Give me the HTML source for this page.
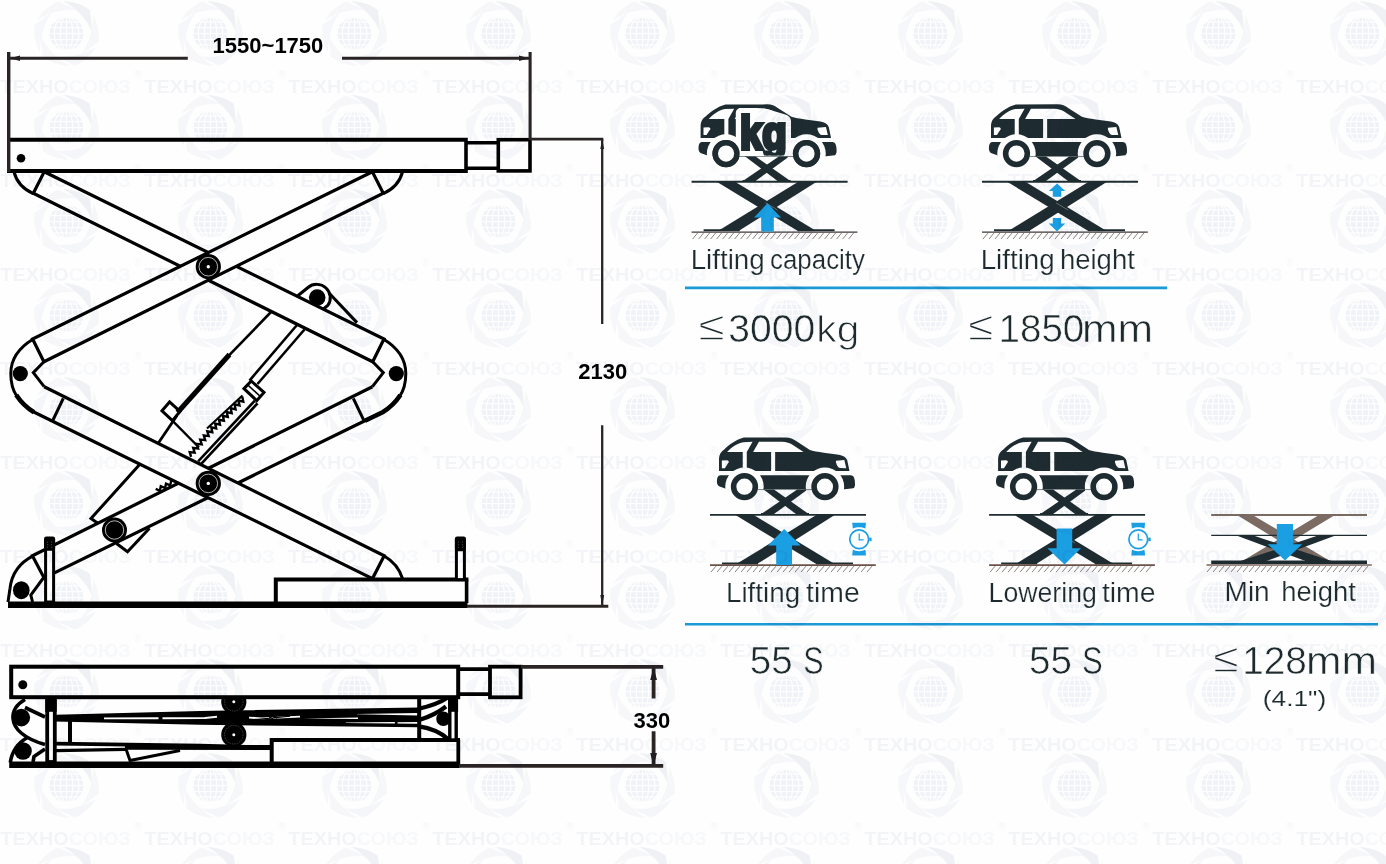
<!DOCTYPE html>
<html lang="en">
<head>
<meta charset="utf-8">
<title>Scissor lift specifications</title>
<style>
html,body{margin:0;padding:0;background:#fefefe;}
body{width:1386px;height:864px;overflow:hidden;font-family:"Liberation Sans",sans-serif;}
svg{display:block;position:absolute;left:0;top:0;will-change:transform;}
.dim{font-family:"Liberation Sans",sans-serif;font-weight:bold;font-size:22px;fill:#000;}
.lbl{font-family:"Liberation Sans",sans-serif;font-size:27px;fill:#1d2a2e;stroke:#fefefe;stroke-width:0.22px;}
.val{font-family:"Liberation Sans",sans-serif;font-size:39.5px;fill:#1d2a2e;stroke:#fefefe;stroke-width:0.6px;}
.wm{font-family:"Liberation Sans",sans-serif;font-weight:bold;font-size:19px;}
.wmr{font-family:"Liberation Sans",sans-serif;font-size:11px;fill:#f3f4f8;}
</style>
</head>
<body>
<svg width="1386" height="864" viewBox="0 0 1386 864">
<!-- lift_up.svg -->
<g id="lift-up" stroke="#000" stroke-linejoin="miter" stroke-linecap="butt" fill="none">
 <!-- lock / cylinder assembly (behind arms) -->
 <g id="cyl">
  <path d="M271,312 L228.3,356.2" stroke-width="2.6"/>
  <path d="M229.5,354.5 L177.5,412.5" stroke-width="5"/>
  <path d="M177,415.5 L157,445" stroke-width="2.8"/>
  <path d="M141,463 L91,518.5 L97.5,523" stroke-width="3"/>
  <path d="M162,410.8 L169.6,402 L180,411.5 L172.4,420.6 Z" stroke-width="3"/>
  <path d="M172.4,420.6 L199,447.5" stroke-width="2.4"/>
  <path d="M297,325 L249.5,380.6" stroke-width="2.6"/>
  <path d="M304.5,329.5 L257.5,384" stroke-width="2.6"/>
  <path d="M244,388.6 L251.2,381 L264,392.4 L256.8,400.6 Z" stroke-width="3"/>
  <path d="M247.6,384.8 L260.4,396.5" stroke-width="1.6"/>
  <path d="M242.5,395.5 L207,428.5" stroke-width="2.2"/>
  <path d="M256.2,402 L199.6,462.8" stroke-width="6.4"/>
  <path d="M255.6,402.6 L200,462.2" stroke="#fff" stroke-width="1.3"/>
  <path d="M242.3,396.7 L243.3,401.6 L238.4,400.5 L239.5,405.4 L234.6,404.4 L235.6,409.3 L230.7,408.2 L231.7,413.1 L226.8,412.0 L227.8,416.9 L222.9,415.8 L223.9,420.7 L219.0,419.7 L220.0,424.6 L215.2,423.5 L216.2,428.4 L211.3,427.3 L212.3,432.2 L207.3,431.3 L208.7,436.1 L203.8,435.4 L205.2,440.2 L200.2,439.6 L201.7,444.4 L196.7,443.8 L198.1,448.5 L193.2,447.9 L194.6,452.7 L189.7,452.1 L191.1,456.9" stroke-width="2.4" stroke-linejoin="miter"/>
  <path d="M171.2,480.9 L170.2,485.4 L166.0,483.6 L165.1,488.1 L160.8,486.2 L159.9,490.8 L155.7,488.9" stroke-width="2.4" stroke-linejoin="miter"/>
 </g>
 <!-- lower scissor: arm D (behind) -->
 <g id="armD">
  <path d="M372.4,386.7 L32.4,555.8 L44.1,578 L383.3,411.7" fill="#fefefe" stroke-width="3.2"/>
  <path d="M353.3,398.3 L363.8,420.4" stroke-width="3"/>
  <!-- roller bracket -->
  <path d="M116.5,543.5 L127.5,551.8 L149.5,528.2" stroke-width="3"/>
 </g>
 <!-- lower scissor: arm C (front) -->
 <g id="armC">
  <path d="M44.2,386.7 L384.2,555.8 L372.5,578.6 L33.3,411.7" fill="#fefefe" stroke-width="3.2"/>
  <path d="M63.3,398.3 L53,420" stroke-width="3"/>
  <path d="M384.2,556 C393,561 399.5,569 402.5,578.5" stroke-width="3"/>
 </g>
 <circle cx="114.5" cy="530" r="12.5" fill="#000" stroke="none"/>
 <circle cx="114.5" cy="530" r="9.2" fill="none" stroke="#fff" stroke-width="0.7"/>
 <!-- upper scissor: arm A (behind) -->
 <g id="armA">
  <path d="M44.2,171.8 L384,339 L372.7,361.8 L33.3,193.3 Z" fill="#fefefe" stroke-width="3.2"/>
  <path d="M14,172 C16.5,181.5 23,189 33.3,193.6" stroke-width="3"/>
  <!-- lock bracket with pin -->
  <path d="M297.5,296 L308,287.5 C313,283.2 321,283.3 326,288 C331,292.6 331.6,300 328,305.2 L323.5,309" stroke-width="3"/>
  <path d="M329,293 L357,322.6" stroke-width="3"/>
  <circle cx="317.2" cy="297.6" r="8.3" fill="#000" stroke="none"/>
 </g>
 <!-- upper scissor: arm B (front) -->
 <g id="armB">
  <path d="M372.4,171.8 L32.6,339 L43.9,361.8 L383.3,193.3 Z" fill="#fefefe" stroke-width="3.2"/>
  <path d="M402.5,172 C400,181.5 393.5,189 383.3,193.6" stroke-width="3"/>
 </g>
 <!-- joints -->
 <g id="joints" stroke-width="3">
  <path d="M33,339.2 C17.5,348.5 10.8,361 10.8,373.5 C10.8,384 13.5,391.5 17,396.5"/>
  <path d="M16.2,395 C21.5,403 27,408 34,412.2" stroke-width="4.6"/>
  <path d="M43.9,361.8 L33.3,372.6 L44.2,386.7"/>
  <circle cx="20.3" cy="373.6" r="7.6" fill="#000" stroke="none"/>
  <path d="M383.6,339.2 C399.1,348.5 405.8,361 405.8,373.5 C405.8,384 403.1,391.5 399.6,396.5"/>
  <path d="M400.4,395 C395.1,403 389.6,408 382.6,412.2 L365,420.8" stroke-width="4.6"/>
  <path d="M372.7,361.8 L383.3,372.6 L372.4,386.7"/>
  <circle cx="396.3" cy="373.6" r="7.6" fill="#000" stroke="none"/>
  <!-- bottom-left foot -->
  <path d="M33,555.8 C19,563 11.5,574.5 10,588.5 L8,602"/>
  <path d="M44.1,577 L30.8,595 L32.6,602"/>
  <ellipse cx="21.3" cy="590.2" rx="8.3" ry="9" fill="#000" stroke="none"/>
 </g>
 <!-- pivots -->
 <g id="pivots" stroke="none">
  <circle cx="208.3" cy="266.7" r="12.6" fill="#000"/>
  <circle cx="208.3" cy="266.7" r="9.3" fill="none" stroke="#fff" stroke-width="0.7"/>
  <circle cx="208.3" cy="266.7" r="1.7" fill="#fff"/>
  <circle cx="208.3" cy="483.4" r="12.6" fill="#000"/>
  <circle cx="208.3" cy="483.4" r="9.3" fill="none" stroke="#fff" stroke-width="0.7"/>
  <circle cx="208.3" cy="483.4" r="1.7" fill="#fff"/>
 </g>
 <!-- platform -->
 <g id="platform" stroke-width="4">
  <path d="M7,139.7 H467.8"/>
  <path d="M7,170.9 H467.8"/>
  <path d="M466,141 V170" stroke-width="3.6"/>
  <path d="M466,142.8 H498.3 M466,168.2 H498.3" stroke-width="3.6"/>
  <rect x="498.3" y="139.7" width="31.7" height="31.2" stroke-width="3.6"/>
  <circle cx="21" cy="158.2" r="4.3" fill="#000" stroke="none"/>
 </g>
 <!-- base -->
 <g id="base">
  <path d="M8,604.8 H467.5" stroke-width="6.4"/>
  <path d="M275.8,602 V579.6 H468.4" stroke-width="4"/>
  <path d="M466.6,579.6 V603" stroke-width="3.6"/>
  <!-- posts -->
  <rect x="45.6" y="540" width="8" height="62" fill="#fefefe" stroke-width="3"/>
  <rect x="44.1" y="536.6" width="11" height="14.2" rx="2.2" fill="#000" stroke="none"/>
  <path d="M47.6,541.5 V549 M51.6,541.5 V549" stroke="#555" stroke-width="0.8" stroke-dasharray="1.2 1.4"/>
  <rect x="456.4" y="540" width="8" height="39.6" fill="#fefefe" stroke-width="3"/>
  <rect x="454.9" y="536.6" width="11" height="14.6" rx="2.2" fill="#000" stroke="none"/>
  <path d="M458.4,541.5 V549.5 M462.4,541.5 V549.5" stroke="#555" stroke-width="0.8" stroke-dasharray="1.2 1.4"/>
 </g>
</g>

<!-- lift_down.svg -->
<g id="lift-down" stroke="#000" fill="none" stroke-linejoin="miter">
 <!-- folded arms -->
 <g id="folded">
  <path d="M56,716 L200,712.2 L418,708.6 L418,726 L200,723.6 L56,720.4 Z" fill="#000" stroke-width="2.4"/>
  <path d="M104,718.4 L158.5,718.2 M162.5,718.2 L205,718 L217,716.8 M249,717.6 L262,718.4 L300,716.6" stroke="#fefefe" stroke-width="1.9"/>
  <path d="M303,718.5 L358,717.4 V718.9 Z M346,722.6 L395,721.9 L395,722.2 L418,722 V723.8 L346,723 Z M357,713.9 L417.6,713.1 V715.5 L357,714.2 Z" fill="#fefefe" stroke="none"/>
  <path d="M396.2,721 V724.4" stroke="#000" stroke-width="2.6"/>
  <path d="M255,719.6 L290,716.2 M268,719.4 l2.4,-2.6 l2,2.2 l2.4,-2.6 l2,2.2" stroke="#000" stroke-width="1.1" fill="none"/>
  <path d="M70,721 V744" stroke-width="4"/>
  <path d="M56,743.6 L200,745.6 L271,747.5" stroke-width="3.6"/>
  <path d="M56,750.6 L125,749.4" stroke-width="3.4"/>
  <path d="M125,747.2 L271,747.6" stroke-width="5"/>
  <path d="M126,749 L130,760.5 L180,750.5" stroke-width="3"/>
  <path d="M419.2,697 V741" stroke-width="4"/>
  <!-- right joint curves -->
  <path d="M419,708.6 C431,706 440,702.6 447,698" stroke-width="4.2"/>
  <path d="M420,719.8 C430,716.5 439,712 446,706.5" stroke-width="4.2"/>
  <path d="M419,726.4 C430,728 440,732 448,739" stroke-width="4.2"/>
  <circle cx="443.4" cy="718.8" r="7.2" fill="#000" stroke="none"/>
 </g>
 <!-- pivots -->
 <g stroke="none">
  <circle cx="233.8" cy="701.7" r="12.6" fill="#000"/>
  <circle cx="233.8" cy="701.7" r="9.3" fill="none" stroke="#777" stroke-width="0.5" stroke-dasharray="1.5 1"/>
  <circle cx="233.8" cy="701.7" r="1.5" fill="#fff"/>
  <circle cx="233.8" cy="734.7" r="12.6" fill="#000"/>
  <circle cx="233.8" cy="734.7" r="9.3" fill="none" stroke="#777" stroke-width="0.5" stroke-dasharray="1.5 1"/>
  <circle cx="233.8" cy="734.7" r="1.5" fill="#fff"/>
 </g>
 <!-- left joints -->
 <g stroke-width="3.6">
  <path d="M25,699.5 C15.5,705 12.5,711 13,718.5 C13.7,728.5 23.5,738.5 45,744.5"/>
  <path d="M25,707.5 L45,717"/>
  <circle cx="21.3" cy="717.6" r="8.8" fill="#000" stroke="none"/>
  <path d="M27.5,737.5 C16.7,743.5 11.6,753.5 10.3,762.5"/>
  <path d="M45,749 L34,756.6 L33,762"/>
  <circle cx="23" cy="751" r="8.8" fill="#000" stroke="none"/>
 </g>
 <!-- platform -->
 <g stroke-width="4">
  <rect x="11.2" y="666.7" width="447" height="30.5" fill="#fefefe"/>
  <path d="M458,669.2 H489.4 M458,694.2 H489.4" stroke-width="3.8"/>
  <rect x="490" y="666.7" width="30.6" height="30.6" stroke-width="3.8"/>
  <circle cx="22.8" cy="684.7" r="4.5" fill="#000" stroke="none"/>
 </g>
 <!-- base -->
 <g>
  <path d="M9.2,764.8 H459.6" stroke-width="6.4"/>
  <path d="M271.7,763 V740 H460" stroke-width="4" fill="none"/>
  <path d="M458.3,740 V765" stroke-width="3.8"/>
  <!-- posts -->
  <rect x="47.2" y="699" width="7.6" height="63" fill="#fefefe" stroke-width="3.8"/>
  <rect x="45.3" y="697" width="11.4" height="14.8" fill="#000" stroke="none"/>
  <rect x="449.8" y="699" width="6.4" height="41" fill="#fefefe" stroke-width="3.4"/>
  <rect x="448.1" y="697" width="10" height="14.8" fill="#000" stroke="none"/>
 </g>
</g>

<!-- dims.svg -->
<g id="dims" stroke="#2a2425" fill="none">
 <!-- width dimension -->
 <path d="M8.7,52 V172" stroke-width="3.4"/>
 <path d="M530.1,52 V140" stroke-width="3.1"/>
 <path d="M10,58.2 H187.8 M342,58.2 H529" stroke-width="3"/>
 <path d="M10,58.2 L20,55.4 V61 Z M529,58.2 L519,55.4 V61 Z" fill="#231f20" stroke="none"/>
 <!-- height dimension 2130 -->
 <path d="M530,139.2 H603.3" stroke-width="2.7"/>
 <path d="M602.2,139 V324 M602.2,425.3 V606" stroke-width="2.3"/>
 <path d="M602.2,139 L600.3,149 H604.1 Z M602.2,606 L600.3,595 H604.1 Z" fill="#231f20" stroke="none"/>
 <path d="M467,606.2 H608.3" stroke-width="3"/>
 <!-- height dimension 330 -->
 <path d="M521,666.9 H663.2" stroke-width="3.6"/>
 <path d="M459,765.9 H663.2" stroke-width="3.6"/>
 <path d="M653.6,667 V698.5 M653.6,731.3 V766" stroke-width="3.8"/>
 <path d="M653.6,667 L650.2,680 H657 Z M653.6,766 L650.2,753 H657 Z" fill="#231f20" stroke="none"/>
</g>
<g id="dimtext">
 <text class="dim" x="212.6" y="53">1550~1750</text>
 <text class="dim" x="578.2" y="379.1">2130</text>
 <text class="dim" x="633.6" y="727.8">330</text>
</g>

<!-- icons.svg -->
<defs>
 <!-- car + scissor lift pictogram, drawn in icon-2 coordinates -->
 <g id="car" transform="translate(980,98) scale(0.115774)">
  <!-- upper body -->
  <path fill="#1e2c31" d="M95,345 L95,235 C97,200 112,178 140,158 C185,118 240,75 310,56 L670,55 C710,56 735,68 765,88 L880,163 C905,172 950,180 1000,186 L1130,204 C1165,210 1190,222 1202,250 L1222,345 Z"/>
  <!-- windows -->
  <path fill="#fefefe" d="M165,181 C185,160 205,142 232,125 C255,110 280,100 305,96 L385,92 L335,181 Z"/>
  <path fill="#fefefe" d="M390,181 L440,92 L640,92 C680,94 705,102 730,118 L825,181 Z"/>
  <!-- door seams -->
  <rect fill="#fefefe" x="300" y="181" width="35" height="145"/>
  <rect fill="#fefefe" x="545" y="181" width="35" height="170"/>
  <!-- lights -->
  <path fill="#fefefe" d="M120,255 L163,252 C175,253 182,260 178,270 L146,320 L120,320 Z"/>
  <path fill="#fefefe" d="M1105,257 L1178,250 L1194,320 L1140,319 C1125,317 1112,300 1105,270 Z"/>
  <!-- sill and bumpers -->
  <path fill="#1e2c31" d="M105,381 L1235,381 C1255,383 1265,400 1268,430 C1272,465 1270,485 1255,494 L1180,503 L870,505 L455,505 L155,497 L100,478 C82,470 76,455 77,430 C78,400 85,385 105,381 Z"/>
  <!-- wheel arches -->
  <circle cx="315" cy="480" r="166" fill="#fefefe"/>
  <circle cx="1010" cy="480" r="166" fill="#fefefe"/>
  <path d="M430,505 H490 M840,505 H900" stroke="#1e2c31" stroke-width="5" fill="none"/>
  <!-- wheels -->
  <circle cx="315" cy="480" r="94" fill="#fefefe" stroke="#1e2c31" stroke-width="48"/>
  <circle cx="1010" cy="480" r="94" fill="#fefefe" stroke="#1e2c31" stroke-width="48"/>
 </g>
 <g id="wheels" transform="translate(980,98) scale(0.115774)">
  <circle cx="315" cy="480" r="94" fill="#fefefe" stroke="#1e2c31" stroke-width="48"/>
  <circle cx="1010" cy="480" r="94" fill="#fefefe" stroke="#1e2c31" stroke-width="48"/>
 </g>
 <g id="liftcar">
  <!-- small scissor under car -->
  <path fill="#1e2c31" d="M1035.6,156.5 L1046,156.5 L1080.8,181 L1068,181 Z"/>
  <path fill="#1e2c31" d="M1069.2,156.5 L1079.6,156.5 L1046,181 L1033.2,181 Z"/>
  <path d="M1033,180.6 H1046 M1068,180.6 H1081" stroke="#1e2c31" stroke-width="1.4"/>
  <!-- big scissor -->
  <path fill="#1e2c31" d="M1007.5,182 L1025.8,182 L1106.7,231 L1088.3,231 Z"/>
  <path fill="#1e2c31" d="M1088.3,182 L1106.7,182 L1029,231 L1008.3,231 Z"/>
  <path d="M1056,202.8 L1068,210" stroke="#fefefe" stroke-width="0.5" opacity="0.6"/>
  <path d="M994,230.3 H1030 M1088,230.3 H1125" stroke="#1e2c31" stroke-width="2"/>
  <!-- platform -->
  <path d="M982,181.8 H1138" stroke="#1e2c31" stroke-width="1.9"/>
  <use href="#car"/>
 </g>
 <g id="ground">
  <path stroke="#6e645e" stroke-width="0.8" d="M988,233 l-5,6 M994,233 l-5,6 M1000,233 l-5,6 M1006,233 l-5,6 M1012,233 l-5,6 M1018,233 l-5,6 M1024,233 l-5,6 M1030,233 l-5,6 M1036,233 l-5,6 M1042,233 l-5,6 M1048,233 l-5,6 M1054,233 l-5,6 M1060,233 l-5,6 M1066,233 l-5,6 M1072,233 l-5,6 M1078,233 l-5,6 M1084,233 l-5,6 M1090,233 l-5,6 M1096,233 l-5,6 M1102,233 l-5,6 M1108,233 l-5,6 M1114,233 l-5,6 M1120,233 l-5,6 M1126,233 l-5,6 M1132,233 l-5,6 M1138,233 l-5,6 M1144,233 l-5,6"/>
 </g>
 <g id="watch">
  <path fill="#1a9fe3" d="M-7,-16.4 H6.8 L6.2,-10.6 C2.4,-12.4 -2.6,-12.4 -6.4,-10.6 Z"/>
  <path fill="#1a9fe3" d="M-6.4,10.6 C-2.6,12.4 2.4,12.4 6.2,10.6 L6.8,16.4 H-7 Z"/>
  <circle r="9.4" fill="#fefefe" stroke="#1a9fe3" stroke-width="1.7"/>
  <path d="M10,-1.6 h2.4 v3.6 h-2.4 z" fill="#1a9fe3"/>
  <path d="M0,-5.6 V0.6 H4.4" fill="none" stroke="#1a9fe3" stroke-width="1.2"/>
 </g>
</defs>
<g id="icons">
 <!-- 1: lifting capacity -->
 <g transform="translate(-290.4,0)"><use href="#liftcar"/><use href="#ground"/><path d="M982,232 H1147.8" stroke="#3f3734" stroke-width="1.25"/></g>
 <path fill="#1a9fe3" d="M767.5,203.2 L781,217.6 H773.8 V231.4 H761.2 V217.6 H754 Z"/>
 <path d="M741,108 H756 C762,108 767,109 771,110.3 L784.5,114.2 C788.4,115.4 791,117.4 791,121.4 V151 C791,154 789,156 786,156 H741 C738,156 735.8,154 735.8,151 V113 C735.8,110 738,108 741,108 Z" fill="#fefefe"/>
 <g transform="translate(-290.4,0)"><use href="#wheels"/></g>
 <clipPath id="kgclip"><rect x="736" y="108" width="55" height="47.5"/></clipPath>
 <!-- 2: lifting height -->
 <use href="#liftcar"/><use href="#ground"/><path d="M982,232 H1147.8" stroke="#3f3734" stroke-width="1.25"/>
 <path fill="#1a9fe3" d="M1057,183.6 L1065.2,191 H1061.2 V196.8 H1052.8 V191 H1048.8 Z"/>
 <path fill="#1a9fe3" d="M1057,231.4 L1065.2,223.4 H1061.2 V218 H1052.8 V223.4 H1048.8 Z"/>
 <!-- 3: lifting time -->
 <g transform="translate(-272,333.1)"><use href="#liftcar"/><use href="#ground"/><path d="M982,232 H1147.8" stroke="#6a5248" stroke-width="1.6"/></g>
 <path fill="#1a9fe3" d="M784.2,529 L800.6,545.4 H792 V565 H776.2 V545.4 H767.8 Z"/>
 <use href="#watch" x="859.2" y="539.2"/>
 <!-- 4: lowering time -->
 <g transform="translate(7.1,333.1)"><use href="#liftcar"/><use href="#ground"/><path d="M982,232 H1147.8" stroke="#6a5248" stroke-width="1.6"/></g>
 <path fill="#1a9fe3" d="M1064.5,564.4 L1081,548.2 H1072.2 V528.6 H1056.6 V548.2 H1047.4 Z"/>
 <use href="#watch" x="1138.3" y="539.2"/>
 <!-- 5: min height -->
 <g id="minheight">
  <path fill="#7b6b63" d="M1237,515 L1252.6,515 L1331,561.5 L1313,561.5 Z"/>
  <path fill="#7b6b63" d="M1319,515 L1335,515 L1258,561.5 L1241.6,561.5 Z"/>
  <path d="M1211.2,515 H1367" stroke="#7b6b63" stroke-width="2"/>
  <path fill="#1e2c31" d="M1236.5,535.6 L1253.4,535.6 L1333,561.6 L1307,561.6 Z"/>
  <path fill="#1e2c31" d="M1318,535.6 L1335.4,535.6 L1265,561.6 L1239,561.6 Z"/>
  <path d="M1211.2,535.4 H1367" stroke="#1e2c31" stroke-width="1.2"/>
  <path d="M1211.2,562.3 H1367" stroke="#1e2c31" stroke-width="3.6"/>
  <path d="M1206.5,565 H1371.8" stroke="#7a655c" stroke-width="1.6"/>
  <path stroke="#6e645e" stroke-width="0.8" d="M1212,566 l-5,6 M1218,566 l-5,6 M1224,566 l-5,6 M1230,566 l-5,6 M1236,566 l-5,6 M1242,566 l-5,6 M1248,566 l-5,6 M1254,566 l-5,6 M1260,566 l-5,6 M1266,566 l-5,6 M1272,566 l-5,6 M1278,566 l-5,6 M1284,566 l-5,6 M1290,566 l-5,6 M1296,566 l-5,6 M1302,566 l-5,6 M1308,566 l-5,6 M1314,566 l-5,6 M1320,566 l-5,6 M1326,566 l-5,6 M1332,566 l-5,6 M1338,566 l-5,6 M1344,566 l-5,6 M1350,566 l-5,6 M1356,566 l-5,6 M1362,566 l-5,6 M1368,566 l-5,6"/>
  <path fill="#1a9fe3" d="M1285,560.4 L1302.2,544.2 H1293 V524 H1276.8 V544.2 H1267.6 Z"/>
 </g>
</g>
<!-- separators -->
<path d="M685,287.9 H1167.2" stroke="#1a9ad6" stroke-width="2.6"/>
<path d="M685,624.2 H1378" stroke="#1a9ad6" stroke-width="2.6"/>

<!-- text.svg -->
<g id="labels">
<g clip-path="url(#kgclip)"><text id="kgbadge" x="740.1" y="148.7" font-family="'Liberation Sans',sans-serif" font-weight="bold" font-size="46" fill="#1e2c31" stroke="#1e2c31" stroke-width="4" stroke-linejoin="miter" textLength="46.7" lengthAdjust="spacingAndGlyphs">kg</text></g>
<text class="lbl" y="268.70"><tspan x="690.66" textLength="74.05" lengthAdjust="spacingAndGlyphs">Lifting</tspan> <tspan x="770.05" textLength="94.89" lengthAdjust="spacingAndGlyphs">capacity</tspan></text>
<text class="lbl" y="268.70"><tspan x="980.66" textLength="74.05" lengthAdjust="spacingAndGlyphs">Lifting</tspan> <tspan x="1059.93" textLength="74.92" lengthAdjust="spacingAndGlyphs">height</tspan></text>
<text class="lbl" y="601.70"><tspan x="725.95" textLength="74.27" lengthAdjust="spacingAndGlyphs">Lifting</tspan> <tspan x="806.12" textLength="53.58" lengthAdjust="spacingAndGlyphs">time</tspan></text>
<text class="lbl" y="601.70"><tspan x="988.55" textLength="108.29" lengthAdjust="spacingAndGlyphs">Lowering</tspan> <tspan x="1101.92" textLength="53.68" lengthAdjust="spacingAndGlyphs">time</tspan></text>
<text class="lbl" y="601.30"><tspan x="1224.54" textLength="45.17" lengthAdjust="spacingAndGlyphs">Min</tspan>  <tspan x="1281.24" textLength="74.51" lengthAdjust="spacingAndGlyphs">height</tspan></text>
<text class="val" y="342.10"><tspan x="698.55" textLength="26.57" lengthAdjust="spacingAndGlyphs" dy="-1.9" style="font-size:41px;stroke-width:1.3px">≤</tspan><tspan x="728.23" textLength="86.92" lengthAdjust="spacingAndGlyphs" dy="1.9">3000</tspan><tspan x="816.35" textLength="43.05" lengthAdjust="spacingAndGlyphs" style="font-size:37.5px;stroke-width:0.9px">kg</tspan></text>
<text class="val" y="342.40"><tspan x="968.31" textLength="25.44" lengthAdjust="spacingAndGlyphs" dy="-2" style="font-size:41px;stroke-width:1.3px">≤</tspan><tspan x="998.51" textLength="85.82" lengthAdjust="spacingAndGlyphs" dy="2">1850</tspan><tspan x="1082.02" textLength="71.10" lengthAdjust="spacingAndGlyphs">mm</tspan></text>
<text class="val" y="674.10"><tspan x="749.86" textLength="42.87" lengthAdjust="spacingAndGlyphs">55</tspan> <tspan x="803.33" textLength="20.30" lengthAdjust="spacingAndGlyphs">S</tspan></text>
<text class="val" y="674.10"><tspan x="1028.95" textLength="42.98" lengthAdjust="spacingAndGlyphs">55</tspan> <tspan x="1082.10" textLength="20.76" lengthAdjust="spacingAndGlyphs">S</tspan></text>
<text class="val" y="674.30"><tspan x="1213.19" textLength="25.78" lengthAdjust="spacingAndGlyphs" dy="-1.9" style="font-size:41px;stroke-width:1.3px">≤</tspan><tspan x="1242.19" textLength="64.70" lengthAdjust="spacingAndGlyphs" dy="1.9">128</tspan><tspan x="1306.12" textLength="70.99" lengthAdjust="spacingAndGlyphs">mm</tspan></text>
<text class="val" y="706.40" style="font-size:22.5px;stroke-width:0.1px"><tspan x="1262.76" textLength="63.42" lengthAdjust="spacingAndGlyphs">(4.1&quot;)</tspan></text>
</g>
<!-- watermark.svg -->
<g id="wm" style="mix-blend-mode:multiply" opacity="0.74">
<defs>
<path id="blade" d="M-3,-32.5 C7,-32 17,-28.5 23.5,-23.5 L26,1 C23.5,-10 13,-23 -3,-32.5 Z"/>
<g id="globe">
 <use href="#blade" fill="#e9ecf2"/>
 <use href="#blade" fill="#f2f4f7" transform="rotate(60)"/>
 <use href="#blade" fill="#f1f3f7" transform="rotate(120)"/>
 <use href="#blade" fill="#f4f5f8" transform="rotate(180)"/>
 <use href="#blade" fill="#f3f4f8" transform="rotate(240)"/>
 <use href="#blade" fill="#f4f5f8" transform="rotate(300)"/>
 <circle r="16.8" fill="#eaedf3"/>
 <g stroke="#fefefe" stroke-width="1.25" fill="none">
  <line x1="0" y1="-17" x2="0" y2="17"/>
  <ellipse rx="6.3" ry="17"/>
  <ellipse rx="12.3" ry="17"/>
  <line x1="-17" y1="0" x2="17" y2="0"/>
  <line x1="-16" y1="-6" x2="16" y2="-6"/>
  <line x1="-16" y1="6" x2="16" y2="6"/>
  <line x1="-13" y1="-11.5" x2="13" y2="-11.5"/>
  <line x1="-13" y1="11.5" x2="13" y2="11.5"/>
 </g>
</g>
</defs>
<use href="#globe" x="66.5" y="33.5"/>
<use href="#globe" x="210.5" y="33.5"/>
<use href="#globe" x="354.5" y="33.5"/>
<use href="#globe" x="498.5" y="33.5"/>
<use href="#globe" x="642.5" y="33.5"/>
<use href="#globe" x="786.5" y="33.5"/>
<use href="#globe" x="930.5" y="33.5"/>
<use href="#globe" x="1074.5" y="33.5"/>
<use href="#globe" x="1218.5" y="33.5"/>
<use href="#globe" x="1362.5" y="33.5"/>
<use href="#globe" x="66.5" y="127.5"/>
<use href="#globe" x="210.5" y="127.5"/>
<use href="#globe" x="354.5" y="127.5"/>
<use href="#globe" x="498.5" y="127.5"/>
<use href="#globe" x="642.5" y="127.5"/>
<use href="#globe" x="786.5" y="127.5"/>
<use href="#globe" x="930.5" y="127.5"/>
<use href="#globe" x="1074.5" y="127.5"/>
<use href="#globe" x="1218.5" y="127.5"/>
<use href="#globe" x="1362.5" y="127.5"/>
<use href="#globe" x="66.5" y="221.5"/>
<use href="#globe" x="210.5" y="221.5"/>
<use href="#globe" x="354.5" y="221.5"/>
<use href="#globe" x="498.5" y="221.5"/>
<use href="#globe" x="642.5" y="221.5"/>
<use href="#globe" x="786.5" y="221.5"/>
<use href="#globe" x="930.5" y="221.5"/>
<use href="#globe" x="1074.5" y="221.5"/>
<use href="#globe" x="1218.5" y="221.5"/>
<use href="#globe" x="1362.5" y="221.5"/>
<use href="#globe" x="66.5" y="315.5"/>
<use href="#globe" x="210.5" y="315.5"/>
<use href="#globe" x="354.5" y="315.5"/>
<use href="#globe" x="498.5" y="315.5"/>
<use href="#globe" x="642.5" y="315.5"/>
<use href="#globe" x="786.5" y="315.5"/>
<use href="#globe" x="930.5" y="315.5"/>
<use href="#globe" x="1074.5" y="315.5"/>
<use href="#globe" x="1218.5" y="315.5"/>
<use href="#globe" x="1362.5" y="315.5"/>
<use href="#globe" x="66.5" y="409.5"/>
<use href="#globe" x="210.5" y="409.5"/>
<use href="#globe" x="354.5" y="409.5"/>
<use href="#globe" x="498.5" y="409.5"/>
<use href="#globe" x="642.5" y="409.5"/>
<use href="#globe" x="786.5" y="409.5"/>
<use href="#globe" x="930.5" y="409.5"/>
<use href="#globe" x="1074.5" y="409.5"/>
<use href="#globe" x="1218.5" y="409.5"/>
<use href="#globe" x="1362.5" y="409.5"/>
<use href="#globe" x="66.5" y="503.5"/>
<use href="#globe" x="210.5" y="503.5"/>
<use href="#globe" x="354.5" y="503.5"/>
<use href="#globe" x="498.5" y="503.5"/>
<use href="#globe" x="642.5" y="503.5"/>
<use href="#globe" x="786.5" y="503.5"/>
<use href="#globe" x="930.5" y="503.5"/>
<use href="#globe" x="1074.5" y="503.5"/>
<use href="#globe" x="1218.5" y="503.5"/>
<use href="#globe" x="1362.5" y="503.5"/>
<use href="#globe" x="66.5" y="597.5"/>
<use href="#globe" x="210.5" y="597.5"/>
<use href="#globe" x="354.5" y="597.5"/>
<use href="#globe" x="498.5" y="597.5"/>
<use href="#globe" x="642.5" y="597.5"/>
<use href="#globe" x="786.5" y="597.5"/>
<use href="#globe" x="930.5" y="597.5"/>
<use href="#globe" x="1074.5" y="597.5"/>
<use href="#globe" x="1218.5" y="597.5"/>
<use href="#globe" x="1362.5" y="597.5"/>
<use href="#globe" x="66.5" y="691.5"/>
<use href="#globe" x="210.5" y="691.5"/>
<use href="#globe" x="354.5" y="691.5"/>
<use href="#globe" x="498.5" y="691.5"/>
<use href="#globe" x="642.5" y="691.5"/>
<use href="#globe" x="786.5" y="691.5"/>
<use href="#globe" x="930.5" y="691.5"/>
<use href="#globe" x="1074.5" y="691.5"/>
<use href="#globe" x="1218.5" y="691.5"/>
<use href="#globe" x="1362.5" y="691.5"/>
<use href="#globe" x="66.5" y="785.5"/>
<use href="#globe" x="210.5" y="785.5"/>
<use href="#globe" x="354.5" y="785.5"/>
<use href="#globe" x="498.5" y="785.5"/>
<use href="#globe" x="642.5" y="785.5"/>
<use href="#globe" x="786.5" y="785.5"/>
<use href="#globe" x="930.5" y="785.5"/>
<use href="#globe" x="1074.5" y="785.5"/>
<use href="#globe" x="1218.5" y="785.5"/>
<use href="#globe" x="1362.5" y="785.5"/>
<use href="#globe" x="66.5" y="879.5"/>
<use href="#globe" x="210.5" y="879.5"/>
<use href="#globe" x="354.5" y="879.5"/>
<use href="#globe" x="498.5" y="879.5"/>
<use href="#globe" x="642.5" y="879.5"/>
<use href="#globe" x="786.5" y="879.5"/>
<use href="#globe" x="930.5" y="879.5"/>
<use href="#globe" x="1074.5" y="879.5"/>
<use href="#globe" x="1218.5" y="879.5"/>
<use href="#globe" x="1362.5" y="879.5"/>
<text class="wm" x="-143.7" y="92.9" textLength="130.5" lengthAdjust="spacingAndGlyphs"><tspan fill="#eff1f5">ТЕХНО</tspan><tspan fill="#f5f6f9">СОЮЗ</tspan></text>
<text class="wmr" x="-10.5" y="78.3">®</text>
<text class="wm" x="0.3" y="92.9" textLength="130.5" lengthAdjust="spacingAndGlyphs"><tspan fill="#eff1f5">ТЕХНО</tspan><tspan fill="#f5f6f9">СОЮЗ</tspan></text>
<text class="wmr" x="133.5" y="78.3">®</text>
<text class="wm" x="144.3" y="92.9" textLength="130.5" lengthAdjust="spacingAndGlyphs"><tspan fill="#eff1f5">ТЕХНО</tspan><tspan fill="#f5f6f9">СОЮЗ</tspan></text>
<text class="wmr" x="277.5" y="78.3">®</text>
<text class="wm" x="288.3" y="92.9" textLength="130.5" lengthAdjust="spacingAndGlyphs"><tspan fill="#eff1f5">ТЕХНО</tspan><tspan fill="#f5f6f9">СОЮЗ</tspan></text>
<text class="wmr" x="421.5" y="78.3">®</text>
<text class="wm" x="432.3" y="92.9" textLength="130.5" lengthAdjust="spacingAndGlyphs"><tspan fill="#eff1f5">ТЕХНО</tspan><tspan fill="#f5f6f9">СОЮЗ</tspan></text>
<text class="wmr" x="565.5" y="78.3">®</text>
<text class="wm" x="576.3" y="92.9" textLength="130.5" lengthAdjust="spacingAndGlyphs"><tspan fill="#eff1f5">ТЕХНО</tspan><tspan fill="#f5f6f9">СОЮЗ</tspan></text>
<text class="wmr" x="709.5" y="78.3">®</text>
<text class="wm" x="720.3" y="92.9" textLength="130.5" lengthAdjust="spacingAndGlyphs"><tspan fill="#eff1f5">ТЕХНО</tspan><tspan fill="#f5f6f9">СОЮЗ</tspan></text>
<text class="wmr" x="853.5" y="78.3">®</text>
<text class="wm" x="864.3" y="92.9" textLength="130.5" lengthAdjust="spacingAndGlyphs"><tspan fill="#eff1f5">ТЕХНО</tspan><tspan fill="#f5f6f9">СОЮЗ</tspan></text>
<text class="wmr" x="997.5" y="78.3">®</text>
<text class="wm" x="1008.3" y="92.9" textLength="130.5" lengthAdjust="spacingAndGlyphs"><tspan fill="#eff1f5">ТЕХНО</tspan><tspan fill="#f5f6f9">СОЮЗ</tspan></text>
<text class="wmr" x="1141.5" y="78.3">®</text>
<text class="wm" x="1152.3" y="92.9" textLength="130.5" lengthAdjust="spacingAndGlyphs"><tspan fill="#eff1f5">ТЕХНО</tspan><tspan fill="#f5f6f9">СОЮЗ</tspan></text>
<text class="wmr" x="1285.5" y="78.3">®</text>
<text class="wm" x="1296.3" y="92.9" textLength="130.5" lengthAdjust="spacingAndGlyphs"><tspan fill="#eff1f5">ТЕХНО</tspan><tspan fill="#f5f6f9">СОЮЗ</tspan></text>
<text class="wmr" x="1429.5" y="78.3">®</text>
<text class="wm" x="-143.7" y="186.9" textLength="130.5" lengthAdjust="spacingAndGlyphs"><tspan fill="#eff1f5">ТЕХНО</tspan><tspan fill="#f5f6f9">СОЮЗ</tspan></text>
<text class="wmr" x="-10.5" y="172.3">®</text>
<text class="wm" x="0.3" y="186.9" textLength="130.5" lengthAdjust="spacingAndGlyphs"><tspan fill="#eff1f5">ТЕХНО</tspan><tspan fill="#f5f6f9">СОЮЗ</tspan></text>
<text class="wmr" x="133.5" y="172.3">®</text>
<text class="wm" x="144.3" y="186.9" textLength="130.5" lengthAdjust="spacingAndGlyphs"><tspan fill="#eff1f5">ТЕХНО</tspan><tspan fill="#f5f6f9">СОЮЗ</tspan></text>
<text class="wmr" x="277.5" y="172.3">®</text>
<text class="wm" x="288.3" y="186.9" textLength="130.5" lengthAdjust="spacingAndGlyphs"><tspan fill="#eff1f5">ТЕХНО</tspan><tspan fill="#f5f6f9">СОЮЗ</tspan></text>
<text class="wmr" x="421.5" y="172.3">®</text>
<text class="wm" x="432.3" y="186.9" textLength="130.5" lengthAdjust="spacingAndGlyphs"><tspan fill="#eff1f5">ТЕХНО</tspan><tspan fill="#f5f6f9">СОЮЗ</tspan></text>
<text class="wmr" x="565.5" y="172.3">®</text>
<text class="wm" x="576.3" y="186.9" textLength="130.5" lengthAdjust="spacingAndGlyphs"><tspan fill="#eff1f5">ТЕХНО</tspan><tspan fill="#f5f6f9">СОЮЗ</tspan></text>
<text class="wmr" x="709.5" y="172.3">®</text>
<text class="wm" x="720.3" y="186.9" textLength="130.5" lengthAdjust="spacingAndGlyphs"><tspan fill="#eff1f5">ТЕХНО</tspan><tspan fill="#f5f6f9">СОЮЗ</tspan></text>
<text class="wmr" x="853.5" y="172.3">®</text>
<text class="wm" x="864.3" y="186.9" textLength="130.5" lengthAdjust="spacingAndGlyphs"><tspan fill="#eff1f5">ТЕХНО</tspan><tspan fill="#f5f6f9">СОЮЗ</tspan></text>
<text class="wmr" x="997.5" y="172.3">®</text>
<text class="wm" x="1008.3" y="186.9" textLength="130.5" lengthAdjust="spacingAndGlyphs"><tspan fill="#eff1f5">ТЕХНО</tspan><tspan fill="#f5f6f9">СОЮЗ</tspan></text>
<text class="wmr" x="1141.5" y="172.3">®</text>
<text class="wm" x="1152.3" y="186.9" textLength="130.5" lengthAdjust="spacingAndGlyphs"><tspan fill="#eff1f5">ТЕХНО</tspan><tspan fill="#f5f6f9">СОЮЗ</tspan></text>
<text class="wmr" x="1285.5" y="172.3">®</text>
<text class="wm" x="1296.3" y="186.9" textLength="130.5" lengthAdjust="spacingAndGlyphs"><tspan fill="#eff1f5">ТЕХНО</tspan><tspan fill="#f5f6f9">СОЮЗ</tspan></text>
<text class="wmr" x="1429.5" y="172.3">®</text>
<text class="wm" x="-143.7" y="280.9" textLength="130.5" lengthAdjust="spacingAndGlyphs"><tspan fill="#eff1f5">ТЕХНО</tspan><tspan fill="#f5f6f9">СОЮЗ</tspan></text>
<text class="wmr" x="-10.5" y="266.3">®</text>
<text class="wm" x="0.3" y="280.9" textLength="130.5" lengthAdjust="spacingAndGlyphs"><tspan fill="#eff1f5">ТЕХНО</tspan><tspan fill="#f5f6f9">СОЮЗ</tspan></text>
<text class="wmr" x="133.5" y="266.3">®</text>
<text class="wm" x="144.3" y="280.9" textLength="130.5" lengthAdjust="spacingAndGlyphs"><tspan fill="#eff1f5">ТЕХНО</tspan><tspan fill="#f5f6f9">СОЮЗ</tspan></text>
<text class="wmr" x="277.5" y="266.3">®</text>
<text class="wm" x="288.3" y="280.9" textLength="130.5" lengthAdjust="spacingAndGlyphs"><tspan fill="#eff1f5">ТЕХНО</tspan><tspan fill="#f5f6f9">СОЮЗ</tspan></text>
<text class="wmr" x="421.5" y="266.3">®</text>
<text class="wm" x="432.3" y="280.9" textLength="130.5" lengthAdjust="spacingAndGlyphs"><tspan fill="#eff1f5">ТЕХНО</tspan><tspan fill="#f5f6f9">СОЮЗ</tspan></text>
<text class="wmr" x="565.5" y="266.3">®</text>
<text class="wm" x="576.3" y="280.9" textLength="130.5" lengthAdjust="spacingAndGlyphs"><tspan fill="#eff1f5">ТЕХНО</tspan><tspan fill="#f5f6f9">СОЮЗ</tspan></text>
<text class="wmr" x="709.5" y="266.3">®</text>
<text class="wm" x="720.3" y="280.9" textLength="130.5" lengthAdjust="spacingAndGlyphs"><tspan fill="#eff1f5">ТЕХНО</tspan><tspan fill="#f5f6f9">СОЮЗ</tspan></text>
<text class="wmr" x="853.5" y="266.3">®</text>
<text class="wm" x="864.3" y="280.9" textLength="130.5" lengthAdjust="spacingAndGlyphs"><tspan fill="#eff1f5">ТЕХНО</tspan><tspan fill="#f5f6f9">СОЮЗ</tspan></text>
<text class="wmr" x="997.5" y="266.3">®</text>
<text class="wm" x="1008.3" y="280.9" textLength="130.5" lengthAdjust="spacingAndGlyphs"><tspan fill="#eff1f5">ТЕХНО</tspan><tspan fill="#f5f6f9">СОЮЗ</tspan></text>
<text class="wmr" x="1141.5" y="266.3">®</text>
<text class="wm" x="1152.3" y="280.9" textLength="130.5" lengthAdjust="spacingAndGlyphs"><tspan fill="#eff1f5">ТЕХНО</tspan><tspan fill="#f5f6f9">СОЮЗ</tspan></text>
<text class="wmr" x="1285.5" y="266.3">®</text>
<text class="wm" x="1296.3" y="280.9" textLength="130.5" lengthAdjust="spacingAndGlyphs"><tspan fill="#eff1f5">ТЕХНО</tspan><tspan fill="#f5f6f9">СОЮЗ</tspan></text>
<text class="wmr" x="1429.5" y="266.3">®</text>
<text class="wm" x="-143.7" y="374.9" textLength="130.5" lengthAdjust="spacingAndGlyphs"><tspan fill="#eff1f5">ТЕХНО</tspan><tspan fill="#f5f6f9">СОЮЗ</tspan></text>
<text class="wmr" x="-10.5" y="360.3">®</text>
<text class="wm" x="0.3" y="374.9" textLength="130.5" lengthAdjust="spacingAndGlyphs"><tspan fill="#eff1f5">ТЕХНО</tspan><tspan fill="#f5f6f9">СОЮЗ</tspan></text>
<text class="wmr" x="133.5" y="360.3">®</text>
<text class="wm" x="144.3" y="374.9" textLength="130.5" lengthAdjust="spacingAndGlyphs"><tspan fill="#eff1f5">ТЕХНО</tspan><tspan fill="#f5f6f9">СОЮЗ</tspan></text>
<text class="wmr" x="277.5" y="360.3">®</text>
<text class="wm" x="288.3" y="374.9" textLength="130.5" lengthAdjust="spacingAndGlyphs"><tspan fill="#eff1f5">ТЕХНО</tspan><tspan fill="#f5f6f9">СОЮЗ</tspan></text>
<text class="wmr" x="421.5" y="360.3">®</text>
<text class="wm" x="432.3" y="374.9" textLength="130.5" lengthAdjust="spacingAndGlyphs"><tspan fill="#eff1f5">ТЕХНО</tspan><tspan fill="#f5f6f9">СОЮЗ</tspan></text>
<text class="wmr" x="565.5" y="360.3">®</text>
<text class="wm" x="576.3" y="374.9" textLength="130.5" lengthAdjust="spacingAndGlyphs"><tspan fill="#eff1f5">ТЕХНО</tspan><tspan fill="#f5f6f9">СОЮЗ</tspan></text>
<text class="wmr" x="709.5" y="360.3">®</text>
<text class="wm" x="720.3" y="374.9" textLength="130.5" lengthAdjust="spacingAndGlyphs"><tspan fill="#eff1f5">ТЕХНО</tspan><tspan fill="#f5f6f9">СОЮЗ</tspan></text>
<text class="wmr" x="853.5" y="360.3">®</text>
<text class="wm" x="864.3" y="374.9" textLength="130.5" lengthAdjust="spacingAndGlyphs"><tspan fill="#eff1f5">ТЕХНО</tspan><tspan fill="#f5f6f9">СОЮЗ</tspan></text>
<text class="wmr" x="997.5" y="360.3">®</text>
<text class="wm" x="1008.3" y="374.9" textLength="130.5" lengthAdjust="spacingAndGlyphs"><tspan fill="#eff1f5">ТЕХНО</tspan><tspan fill="#f5f6f9">СОЮЗ</tspan></text>
<text class="wmr" x="1141.5" y="360.3">®</text>
<text class="wm" x="1152.3" y="374.9" textLength="130.5" lengthAdjust="spacingAndGlyphs"><tspan fill="#eff1f5">ТЕХНО</tspan><tspan fill="#f5f6f9">СОЮЗ</tspan></text>
<text class="wmr" x="1285.5" y="360.3">®</text>
<text class="wm" x="1296.3" y="374.9" textLength="130.5" lengthAdjust="spacingAndGlyphs"><tspan fill="#eff1f5">ТЕХНО</tspan><tspan fill="#f5f6f9">СОЮЗ</tspan></text>
<text class="wmr" x="1429.5" y="360.3">®</text>
<text class="wm" x="-143.7" y="468.9" textLength="130.5" lengthAdjust="spacingAndGlyphs"><tspan fill="#eff1f5">ТЕХНО</tspan><tspan fill="#f5f6f9">СОЮЗ</tspan></text>
<text class="wmr" x="-10.5" y="454.3">®</text>
<text class="wm" x="0.3" y="468.9" textLength="130.5" lengthAdjust="spacingAndGlyphs"><tspan fill="#eff1f5">ТЕХНО</tspan><tspan fill="#f5f6f9">СОЮЗ</tspan></text>
<text class="wmr" x="133.5" y="454.3">®</text>
<text class="wm" x="144.3" y="468.9" textLength="130.5" lengthAdjust="spacingAndGlyphs"><tspan fill="#eff1f5">ТЕХНО</tspan><tspan fill="#f5f6f9">СОЮЗ</tspan></text>
<text class="wmr" x="277.5" y="454.3">®</text>
<text class="wm" x="288.3" y="468.9" textLength="130.5" lengthAdjust="spacingAndGlyphs"><tspan fill="#eff1f5">ТЕХНО</tspan><tspan fill="#f5f6f9">СОЮЗ</tspan></text>
<text class="wmr" x="421.5" y="454.3">®</text>
<text class="wm" x="432.3" y="468.9" textLength="130.5" lengthAdjust="spacingAndGlyphs"><tspan fill="#eff1f5">ТЕХНО</tspan><tspan fill="#f5f6f9">СОЮЗ</tspan></text>
<text class="wmr" x="565.5" y="454.3">®</text>
<text class="wm" x="576.3" y="468.9" textLength="130.5" lengthAdjust="spacingAndGlyphs"><tspan fill="#eff1f5">ТЕХНО</tspan><tspan fill="#f5f6f9">СОЮЗ</tspan></text>
<text class="wmr" x="709.5" y="454.3">®</text>
<text class="wm" x="720.3" y="468.9" textLength="130.5" lengthAdjust="spacingAndGlyphs"><tspan fill="#eff1f5">ТЕХНО</tspan><tspan fill="#f5f6f9">СОЮЗ</tspan></text>
<text class="wmr" x="853.5" y="454.3">®</text>
<text class="wm" x="864.3" y="468.9" textLength="130.5" lengthAdjust="spacingAndGlyphs"><tspan fill="#eff1f5">ТЕХНО</tspan><tspan fill="#f5f6f9">СОЮЗ</tspan></text>
<text class="wmr" x="997.5" y="454.3">®</text>
<text class="wm" x="1008.3" y="468.9" textLength="130.5" lengthAdjust="spacingAndGlyphs"><tspan fill="#eff1f5">ТЕХНО</tspan><tspan fill="#f5f6f9">СОЮЗ</tspan></text>
<text class="wmr" x="1141.5" y="454.3">®</text>
<text class="wm" x="1152.3" y="468.9" textLength="130.5" lengthAdjust="spacingAndGlyphs"><tspan fill="#eff1f5">ТЕХНО</tspan><tspan fill="#f5f6f9">СОЮЗ</tspan></text>
<text class="wmr" x="1285.5" y="454.3">®</text>
<text class="wm" x="1296.3" y="468.9" textLength="130.5" lengthAdjust="spacingAndGlyphs"><tspan fill="#eff1f5">ТЕХНО</tspan><tspan fill="#f5f6f9">СОЮЗ</tspan></text>
<text class="wmr" x="1429.5" y="454.3">®</text>
<text class="wm" x="-143.7" y="562.9" textLength="130.5" lengthAdjust="spacingAndGlyphs"><tspan fill="#eff1f5">ТЕХНО</tspan><tspan fill="#f5f6f9">СОЮЗ</tspan></text>
<text class="wmr" x="-10.5" y="548.3">®</text>
<text class="wm" x="0.3" y="562.9" textLength="130.5" lengthAdjust="spacingAndGlyphs"><tspan fill="#eff1f5">ТЕХНО</tspan><tspan fill="#f5f6f9">СОЮЗ</tspan></text>
<text class="wmr" x="133.5" y="548.3">®</text>
<text class="wm" x="144.3" y="562.9" textLength="130.5" lengthAdjust="spacingAndGlyphs"><tspan fill="#eff1f5">ТЕХНО</tspan><tspan fill="#f5f6f9">СОЮЗ</tspan></text>
<text class="wmr" x="277.5" y="548.3">®</text>
<text class="wm" x="288.3" y="562.9" textLength="130.5" lengthAdjust="spacingAndGlyphs"><tspan fill="#eff1f5">ТЕХНО</tspan><tspan fill="#f5f6f9">СОЮЗ</tspan></text>
<text class="wmr" x="421.5" y="548.3">®</text>
<text class="wm" x="432.3" y="562.9" textLength="130.5" lengthAdjust="spacingAndGlyphs"><tspan fill="#eff1f5">ТЕХНО</tspan><tspan fill="#f5f6f9">СОЮЗ</tspan></text>
<text class="wmr" x="565.5" y="548.3">®</text>
<text class="wm" x="576.3" y="562.9" textLength="130.5" lengthAdjust="spacingAndGlyphs"><tspan fill="#eff1f5">ТЕХНО</tspan><tspan fill="#f5f6f9">СОЮЗ</tspan></text>
<text class="wmr" x="709.5" y="548.3">®</text>
<text class="wm" x="720.3" y="562.9" textLength="130.5" lengthAdjust="spacingAndGlyphs"><tspan fill="#eff1f5">ТЕХНО</tspan><tspan fill="#f5f6f9">СОЮЗ</tspan></text>
<text class="wmr" x="853.5" y="548.3">®</text>
<text class="wm" x="864.3" y="562.9" textLength="130.5" lengthAdjust="spacingAndGlyphs"><tspan fill="#eff1f5">ТЕХНО</tspan><tspan fill="#f5f6f9">СОЮЗ</tspan></text>
<text class="wmr" x="997.5" y="548.3">®</text>
<text class="wm" x="1008.3" y="562.9" textLength="130.5" lengthAdjust="spacingAndGlyphs"><tspan fill="#eff1f5">ТЕХНО</tspan><tspan fill="#f5f6f9">СОЮЗ</tspan></text>
<text class="wmr" x="1141.5" y="548.3">®</text>
<text class="wm" x="1152.3" y="562.9" textLength="130.5" lengthAdjust="spacingAndGlyphs"><tspan fill="#eff1f5">ТЕХНО</tspan><tspan fill="#f5f6f9">СОЮЗ</tspan></text>
<text class="wmr" x="1285.5" y="548.3">®</text>
<text class="wm" x="1296.3" y="562.9" textLength="130.5" lengthAdjust="spacingAndGlyphs"><tspan fill="#eff1f5">ТЕХНО</tspan><tspan fill="#f5f6f9">СОЮЗ</tspan></text>
<text class="wmr" x="1429.5" y="548.3">®</text>
<text class="wm" x="-143.7" y="656.9" textLength="130.5" lengthAdjust="spacingAndGlyphs"><tspan fill="#eff1f5">ТЕХНО</tspan><tspan fill="#f5f6f9">СОЮЗ</tspan></text>
<text class="wmr" x="-10.5" y="642.3">®</text>
<text class="wm" x="0.3" y="656.9" textLength="130.5" lengthAdjust="spacingAndGlyphs"><tspan fill="#eff1f5">ТЕХНО</tspan><tspan fill="#f5f6f9">СОЮЗ</tspan></text>
<text class="wmr" x="133.5" y="642.3">®</text>
<text class="wm" x="144.3" y="656.9" textLength="130.5" lengthAdjust="spacingAndGlyphs"><tspan fill="#eff1f5">ТЕХНО</tspan><tspan fill="#f5f6f9">СОЮЗ</tspan></text>
<text class="wmr" x="277.5" y="642.3">®</text>
<text class="wm" x="288.3" y="656.9" textLength="130.5" lengthAdjust="spacingAndGlyphs"><tspan fill="#eff1f5">ТЕХНО</tspan><tspan fill="#f5f6f9">СОЮЗ</tspan></text>
<text class="wmr" x="421.5" y="642.3">®</text>
<text class="wm" x="432.3" y="656.9" textLength="130.5" lengthAdjust="spacingAndGlyphs"><tspan fill="#eff1f5">ТЕХНО</tspan><tspan fill="#f5f6f9">СОЮЗ</tspan></text>
<text class="wmr" x="565.5" y="642.3">®</text>
<text class="wm" x="576.3" y="656.9" textLength="130.5" lengthAdjust="spacingAndGlyphs"><tspan fill="#eff1f5">ТЕХНО</tspan><tspan fill="#f5f6f9">СОЮЗ</tspan></text>
<text class="wmr" x="709.5" y="642.3">®</text>
<text class="wm" x="720.3" y="656.9" textLength="130.5" lengthAdjust="spacingAndGlyphs"><tspan fill="#eff1f5">ТЕХНО</tspan><tspan fill="#f5f6f9">СОЮЗ</tspan></text>
<text class="wmr" x="853.5" y="642.3">®</text>
<text class="wm" x="864.3" y="656.9" textLength="130.5" lengthAdjust="spacingAndGlyphs"><tspan fill="#eff1f5">ТЕХНО</tspan><tspan fill="#f5f6f9">СОЮЗ</tspan></text>
<text class="wmr" x="997.5" y="642.3">®</text>
<text class="wm" x="1008.3" y="656.9" textLength="130.5" lengthAdjust="spacingAndGlyphs"><tspan fill="#eff1f5">ТЕХНО</tspan><tspan fill="#f5f6f9">СОЮЗ</tspan></text>
<text class="wmr" x="1141.5" y="642.3">®</text>
<text class="wm" x="1152.3" y="656.9" textLength="130.5" lengthAdjust="spacingAndGlyphs"><tspan fill="#eff1f5">ТЕХНО</tspan><tspan fill="#f5f6f9">СОЮЗ</tspan></text>
<text class="wmr" x="1285.5" y="642.3">®</text>
<text class="wm" x="1296.3" y="656.9" textLength="130.5" lengthAdjust="spacingAndGlyphs"><tspan fill="#eff1f5">ТЕХНО</tspan><tspan fill="#f5f6f9">СОЮЗ</tspan></text>
<text class="wmr" x="1429.5" y="642.3">®</text>
<text class="wm" x="-143.7" y="750.9" textLength="130.5" lengthAdjust="spacingAndGlyphs"><tspan fill="#eff1f5">ТЕХНО</tspan><tspan fill="#f5f6f9">СОЮЗ</tspan></text>
<text class="wmr" x="-10.5" y="736.3">®</text>
<text class="wm" x="0.3" y="750.9" textLength="130.5" lengthAdjust="spacingAndGlyphs"><tspan fill="#eff1f5">ТЕХНО</tspan><tspan fill="#f5f6f9">СОЮЗ</tspan></text>
<text class="wmr" x="133.5" y="736.3">®</text>
<text class="wm" x="144.3" y="750.9" textLength="130.5" lengthAdjust="spacingAndGlyphs"><tspan fill="#eff1f5">ТЕХНО</tspan><tspan fill="#f5f6f9">СОЮЗ</tspan></text>
<text class="wmr" x="277.5" y="736.3">®</text>
<text class="wm" x="288.3" y="750.9" textLength="130.5" lengthAdjust="spacingAndGlyphs"><tspan fill="#eff1f5">ТЕХНО</tspan><tspan fill="#f5f6f9">СОЮЗ</tspan></text>
<text class="wmr" x="421.5" y="736.3">®</text>
<text class="wm" x="432.3" y="750.9" textLength="130.5" lengthAdjust="spacingAndGlyphs"><tspan fill="#eff1f5">ТЕХНО</tspan><tspan fill="#f5f6f9">СОЮЗ</tspan></text>
<text class="wmr" x="565.5" y="736.3">®</text>
<text class="wm" x="576.3" y="750.9" textLength="130.5" lengthAdjust="spacingAndGlyphs"><tspan fill="#eff1f5">ТЕХНО</tspan><tspan fill="#f5f6f9">СОЮЗ</tspan></text>
<text class="wmr" x="709.5" y="736.3">®</text>
<text class="wm" x="720.3" y="750.9" textLength="130.5" lengthAdjust="spacingAndGlyphs"><tspan fill="#eff1f5">ТЕХНО</tspan><tspan fill="#f5f6f9">СОЮЗ</tspan></text>
<text class="wmr" x="853.5" y="736.3">®</text>
<text class="wm" x="864.3" y="750.9" textLength="130.5" lengthAdjust="spacingAndGlyphs"><tspan fill="#eff1f5">ТЕХНО</tspan><tspan fill="#f5f6f9">СОЮЗ</tspan></text>
<text class="wmr" x="997.5" y="736.3">®</text>
<text class="wm" x="1008.3" y="750.9" textLength="130.5" lengthAdjust="spacingAndGlyphs"><tspan fill="#eff1f5">ТЕХНО</tspan><tspan fill="#f5f6f9">СОЮЗ</tspan></text>
<text class="wmr" x="1141.5" y="736.3">®</text>
<text class="wm" x="1152.3" y="750.9" textLength="130.5" lengthAdjust="spacingAndGlyphs"><tspan fill="#eff1f5">ТЕХНО</tspan><tspan fill="#f5f6f9">СОЮЗ</tspan></text>
<text class="wmr" x="1285.5" y="736.3">®</text>
<text class="wm" x="1296.3" y="750.9" textLength="130.5" lengthAdjust="spacingAndGlyphs"><tspan fill="#eff1f5">ТЕХНО</tspan><tspan fill="#f5f6f9">СОЮЗ</tspan></text>
<text class="wmr" x="1429.5" y="736.3">®</text>
<text class="wm" x="-143.7" y="844.9" textLength="130.5" lengthAdjust="spacingAndGlyphs"><tspan fill="#eff1f5">ТЕХНО</tspan><tspan fill="#f5f6f9">СОЮЗ</tspan></text>
<text class="wmr" x="-10.5" y="830.3">®</text>
<text class="wm" x="0.3" y="844.9" textLength="130.5" lengthAdjust="spacingAndGlyphs"><tspan fill="#eff1f5">ТЕХНО</tspan><tspan fill="#f5f6f9">СОЮЗ</tspan></text>
<text class="wmr" x="133.5" y="830.3">®</text>
<text class="wm" x="144.3" y="844.9" textLength="130.5" lengthAdjust="spacingAndGlyphs"><tspan fill="#eff1f5">ТЕХНО</tspan><tspan fill="#f5f6f9">СОЮЗ</tspan></text>
<text class="wmr" x="277.5" y="830.3">®</text>
<text class="wm" x="288.3" y="844.9" textLength="130.5" lengthAdjust="spacingAndGlyphs"><tspan fill="#eff1f5">ТЕХНО</tspan><tspan fill="#f5f6f9">СОЮЗ</tspan></text>
<text class="wmr" x="421.5" y="830.3">®</text>
<text class="wm" x="432.3" y="844.9" textLength="130.5" lengthAdjust="spacingAndGlyphs"><tspan fill="#eff1f5">ТЕХНО</tspan><tspan fill="#f5f6f9">СОЮЗ</tspan></text>
<text class="wmr" x="565.5" y="830.3">®</text>
<text class="wm" x="576.3" y="844.9" textLength="130.5" lengthAdjust="spacingAndGlyphs"><tspan fill="#eff1f5">ТЕХНО</tspan><tspan fill="#f5f6f9">СОЮЗ</tspan></text>
<text class="wmr" x="709.5" y="830.3">®</text>
<text class="wm" x="720.3" y="844.9" textLength="130.5" lengthAdjust="spacingAndGlyphs"><tspan fill="#eff1f5">ТЕХНО</tspan><tspan fill="#f5f6f9">СОЮЗ</tspan></text>
<text class="wmr" x="853.5" y="830.3">®</text>
<text class="wm" x="864.3" y="844.9" textLength="130.5" lengthAdjust="spacingAndGlyphs"><tspan fill="#eff1f5">ТЕХНО</tspan><tspan fill="#f5f6f9">СОЮЗ</tspan></text>
<text class="wmr" x="997.5" y="830.3">®</text>
<text class="wm" x="1008.3" y="844.9" textLength="130.5" lengthAdjust="spacingAndGlyphs"><tspan fill="#eff1f5">ТЕХНО</tspan><tspan fill="#f5f6f9">СОЮЗ</tspan></text>
<text class="wmr" x="1141.5" y="830.3">®</text>
<text class="wm" x="1152.3" y="844.9" textLength="130.5" lengthAdjust="spacingAndGlyphs"><tspan fill="#eff1f5">ТЕХНО</tspan><tspan fill="#f5f6f9">СОЮЗ</tspan></text>
<text class="wmr" x="1285.5" y="830.3">®</text>
<text class="wm" x="1296.3" y="844.9" textLength="130.5" lengthAdjust="spacingAndGlyphs"><tspan fill="#eff1f5">ТЕХНО</tspan><tspan fill="#f5f6f9">СОЮЗ</tspan></text>
<text class="wmr" x="1429.5" y="830.3">®</text>
</g>
</svg>
</body>
</html>
